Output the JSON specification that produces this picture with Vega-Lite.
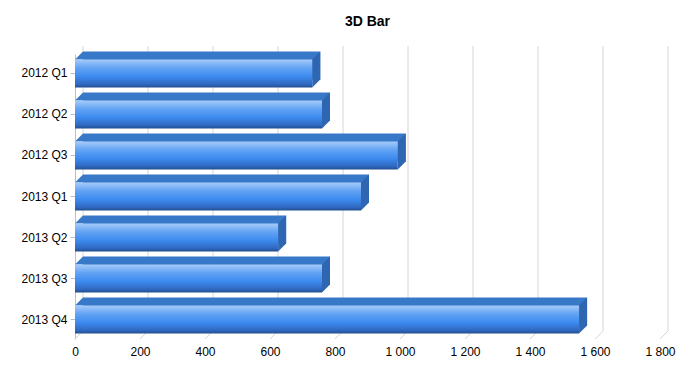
{
  "$schema": "https://vega.github.io/schema/vega-lite/v6.json",
  "width": 585,
  "height": 285,
  "autosize": "none",
  "padding": {"left": 75, "top": 54, "right": 40, "bottom": 36},
  "background": "white",
  "config": {"view": {"stroke": null}},
  "title": {"text": "3D Bar", "font": "Liberation Sans", "fontSize": 14, "fontWeight": "bold", "color": "#000000", "anchor": "middle", "offset": 17},
  "datasets": {
    "quarters": [
      {"quarter": "2012 Q1", "value": 730},
      {"quarter": "2012 Q2", "value": 760},
      {"quarter": "2012 Q3", "value": 993},
      {"quarter": "2013 Q1", "value": 880},
      {"quarter": "2013 Q2", "value": 625},
      {"quarter": "2013 Q3", "value": 760},
      {"quarter": "2013 Q4", "value": 1551}
    ],
    "ticks": [
      {"value": 0}, {"value": 200}, {"value": 400}, {"value": 600}, {"value": 800},
      {"value": 1000}, {"value": 1200}, {"value": 1400}, {"value": 1600}, {"value": 1800}
    ]
  },
  "layer": [
    {
      "data": {"name": "ticks"},
      "mark": {"type": "rule", "color": "#d6d6d6", "strokeWidth": 1, "xOffset": 8, "x2Offset": 8, "yOffset": -8, "y2Offset": -8},
      "encoding": {
        "x": {"field": "value", "type": "quantitative", "scale": {"domain": [0, 1800], "nice": false}},
        "y": {"value": 0},
        "y2": {"value": "height"}
      }
    },
    {
      "data": {"name": "ticks"},
      "mark": {"type": "rule", "color": "#d6d6d6", "strokeWidth": 1, "x2Offset": 8, "y2Offset": -8},
      "encoding": {
        "x": {"field": "value", "type": "quantitative", "scale": {"domain": [0, 1800], "nice": false}},
        "x2": {"field": "value"},
        "y": {"value": "height"},
        "y2": {"value": "height"}
      }
    },
    {
      "data": {"name": "quarters"},
      "mark": {"type": "bar", "color": "#3878c8", "xOffset": 8, "x2Offset": 8, "yOffset": -8},
      "encoding": {
        "x": {"field": "value", "type": "quantitative", "scale": {"domain": [0, 1800], "nice": false}},
        "y": {"field": "quarter", "type": "nominal", "sort": null, "scale": {"paddingInner": 0.317, "paddingOuter": 0.134}}
      }
    },
    {
      "data": {"name": "quarters"},
      "mark": {"type": "point", "shape": "M0,-1.75L1,-2.75L1,0.75L0,1.75Z", "size": 256, "filled": true, "opacity": 1, "color": "#2e66b2", "strokeWidth": 0},
      "encoding": {
        "x": {"field": "value", "type": "quantitative", "scale": {"domain": [0, 1800], "nice": false}},
        "y": {"field": "quarter", "type": "nominal", "sort": null}
      }
    },
    {
      "data": {"name": "quarters"},
      "mark": {"type": "point", "shape": "M0,-1.75L1,-2.75L1,-1.75Z", "size": 256, "filled": true, "opacity": 1, "color": "#3878c8", "strokeWidth": 0},
      "encoding": {
        "x": {"datum": 0, "type": "quantitative", "scale": {"domain": [0, 1800], "nice": false}},
        "y": {"field": "quarter", "type": "nominal", "sort": null}
      }
    },
    {
      "data": {"name": "quarters"},
      "mark": {
        "type": "bar",
        "color": {
          "gradient": "linear", "x1": 0, "y1": 0, "x2": 0, "y2": 1,
          "stops": [
            {"offset": 0, "color": "#a6cbf9"},
            {"offset": 0.3, "color": "#62a3f4"},
            {"offset": 0.6, "color": "#3d8bef"},
            {"offset": 0.88, "color": "#3069c2"},
            {"offset": 1, "color": "#22508f"}
          ]
        }
      },
      "encoding": {
        "x": {
          "field": "value", "type": "quantitative",
          "scale": {"domain": [0, 1800], "nice": false},
          "axis": {
            "title": null, "domain": false, "ticks": false, "grid": false,
            "values": [0, 200, 400, 600, 800, 1000, 1200, 1400, 1600, 1800],
            "labelExpr": "replace(format(datum.value, ','), ',', ' ')",
            "labelFont": "Liberation Sans", "labelFontSize": 12, "labelColor": "#000000",
            "labelPadding": 7, "labelFlush": false, "labelOverlap": false
          }
        },
        "y": {
          "field": "quarter", "type": "nominal", "sort": null,
          "axis": {
            "title": null, "grid": false, "domainColor": "#b3bfd2", "tickColor": "#b3bfd2",
            "tickSize": 5, "labelFont": "Liberation Sans", "labelFontSize": 12,
            "labelColor": "#000000", "labelPadding": 3
          }
        }
      }
    }
  ]
}
